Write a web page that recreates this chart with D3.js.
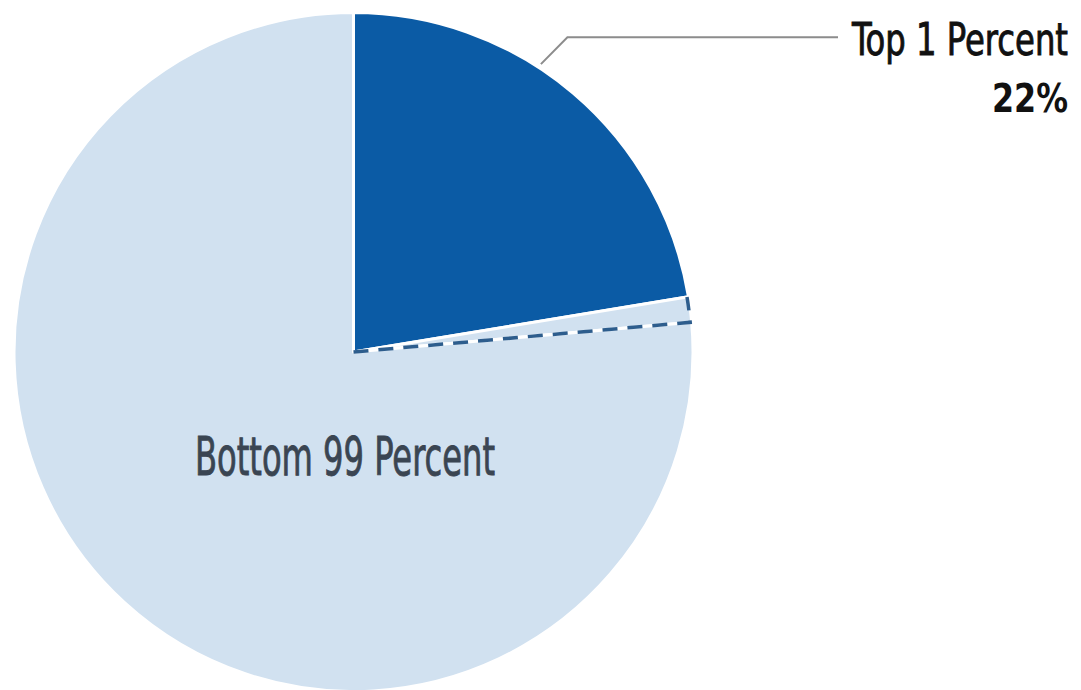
<!DOCTYPE html>
<html>
<head>
<meta charset="utf-8">
<script src="https://cdn.jsdelivr.net/npm/d3@7"></script>
<style>
  html, body { margin: 0; padding: 0; background: #fff; overflow: hidden; }
  svg { display: block; }
</style>
</head>
<body>
<svg id="chart"></svg>
<script>
// Share of income: top 1 percent vs bottom 99 percent.
const sliceNames = ["Top 1 Percent", "Gap", "Bottom 99 Percent"];
const sliceValues = [22.4, 1.2, 76.4];
const sliceColors = ["#0b5ba5", "#d1e1f0", "#d1e1f0"];
const topLabel = ["Top 1 Percent", "22%"];
const bottomLabel = "Bottom 99 Percent";

const width = 1081;
const height = 690;
const cx = 353.5;
const cy = 352;
const radius = 339.5;
const font = "'Liberation Sans Narrow', 'DejaVu Sans Condensed', 'Arial Narrow', sans-serif";

const svg = d3.select("#chart").attr("width", width).attr("height", height);
const g = svg.append("g").attr("transform", `translate(${cx},${cy})`);

const pie = d3.pie().sort(null).value((d) => d);
const slices = pie(sliceValues);
const arc = d3.arc().innerRadius(0).outerRadius(radius);

g.selectAll("path.slice")
  .data(slices)
  .enter()
  .append("path")
  .attr("class", "slice")
  .attr("d", arc)
  .attr("fill", (d, i) => sliceColors[i])
  .attr("stroke", "#fff")
  .attr("stroke-width", 3)
  .attr("stroke-linejoin", "round");

// dashed outline on the small wedge (lower edge + arc)
const gap = slices[1];
const edgeEnd = gap.endAngle;
const pt = (a, r) => [Math.sin(a) * r, -Math.cos(a) * r];
const p = d3.path();
p.moveTo(0, 0);
const e = pt(edgeEnd, radius - 1.5);
p.lineTo(e[0], e[1]);
p.arc(0, 0, radius - 1.5, edgeEnd - Math.PI / 2, gap.startAngle - Math.PI / 2, true);
g.append("path")
  .attr("d", p.toString())
  .attr("fill", "none")
  .attr("stroke", "#2d5d8d")
  .attr("stroke-width", 3.5)
  .attr("stroke-dasharray", "15 10");

// leader line for the top slice
const topSlice = slices[0];
const leadAngle = topSlice.startAngle + 0.41 * (topSlice.endAngle - topSlice.startAngle);
const l0 = pt(leadAngle, radius + 4);
const l1 = pt(leadAngle + 0.02, radius + 41);
const labelX = 1068 - cx;
g.append("polyline")
  .attr("points", [l0, l1, [838 - cx, l1[1]]].map((q) => q.join(",")).join(" "))
  .attr("fill", "none")
  .attr("stroke", "#8c8c8c")
  .attr("stroke-width", 2);

g.append("text")
  .attr("x", labelX)
  .attr("y", l1[1] + 18)
  .attr("text-anchor", "end")
  .attr("font-family", font)
  .attr("font-size", 44)
  .attr("fill", "#111")
  .attr("stroke", "#111")
  .attr("stroke-width", 0.9)
  .attr("textLength", 216)
  .attr("lengthAdjust", "spacingAndGlyphs")
  .text(topLabel[0]);

g.append("text")
  .attr("x", labelX)
  .attr("y", l1[1] + 75)
  .attr("text-anchor", "end")
  .attr("font-family", font)
  .attr("font-weight", "bold")
  .attr("font-size", 39)
  .attr("fill", "#111")
  .attr("textLength", 76)
  .attr("lengthAdjust", "spacingAndGlyphs")
  .text(topLabel[1]);

g.append("text")
  .attr("x", 195 - cx)
  .attr("y", 475 - cy)
  .attr("font-family", font)
  .attr("font-size", 54)
  .attr("fill", "#3a4552")
  .attr("stroke", "#3a4552")
  .attr("stroke-width", 0.9)
  .attr("textLength", 300)
  .attr("lengthAdjust", "spacingAndGlyphs")
  .text(bottomLabel);
</script>
</body>
</html>
